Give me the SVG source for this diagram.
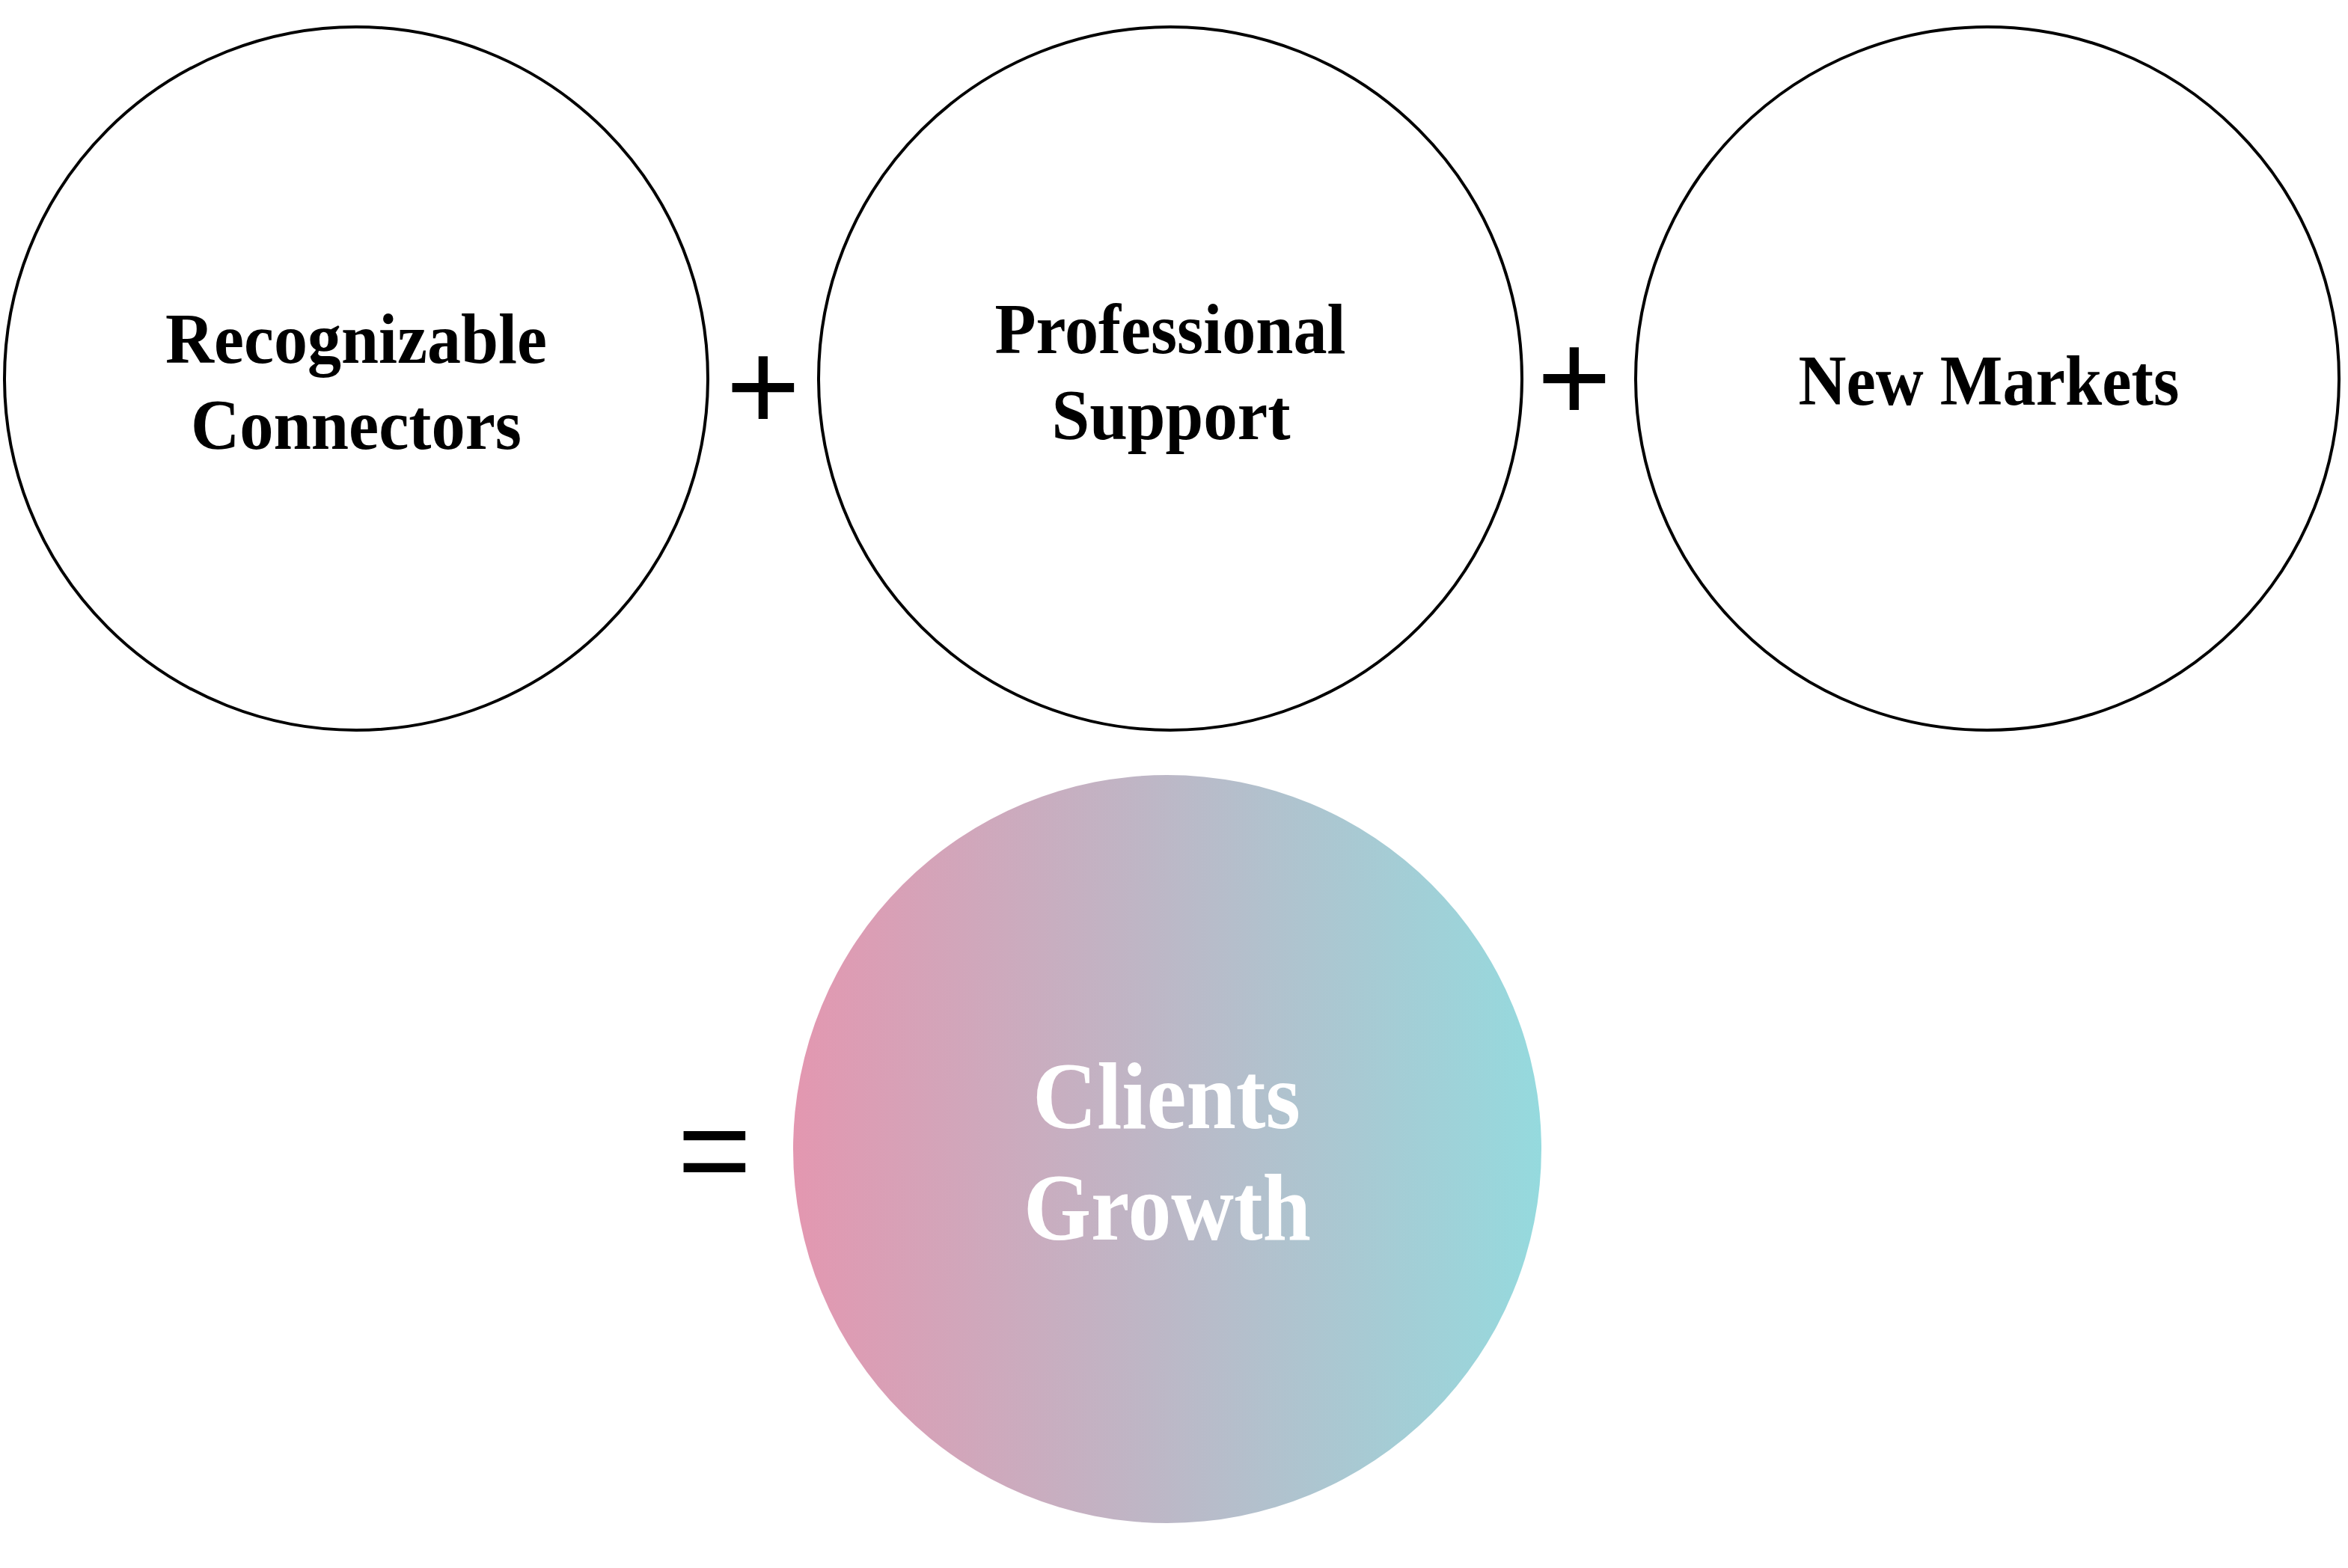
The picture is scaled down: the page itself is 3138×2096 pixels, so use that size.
<svg xmlns="http://www.w3.org/2000/svg" width="3138" height="2096" viewBox="0 0 3138 2096">
  <defs>
    <linearGradient id="grad" x1="0" y1="0" x2="1" y2="0">
      <stop offset="0" stop-color="#E397B0"/>
      <stop offset="0.5" stop-color="#BCB8C7"/>
      <stop offset="1" stop-color="#95DADE"/>
    </linearGradient>
  </defs>
  <style>
    .node { fill: #FFFFFF; stroke: #000000; stroke-width: 4; }
    .lbl { font-family: "Liberation Serif", "Times New Roman", serif; font-weight: bold; font-size: 95px; fill: #000000; text-anchor: middle; }
    .big { font-family: "Liberation Serif", "Times New Roman", serif; font-weight: bold; font-size: 128px; fill: #FFFFFF; text-anchor: middle; }
    .op { font-family: "Liberation Sans", Arial, sans-serif; font-size: 170px; fill: #000000; text-anchor: middle; }
  </style>
  <rect x="0" y="0" width="3138" height="2096" fill="#FFFFFF"/>
  <g id="node-recognizable-connectors">
    <circle class="node" cx="476" cy="506" r="470"/>
    <text class="lbl" x="476" y="485" textLength="510" lengthAdjust="spacingAndGlyphs">Recognizable</text>
    <text class="lbl" x="476" y="600" textLength="442" lengthAdjust="spacingAndGlyphs">Connectors</text>
  </g>
  <g id="node-professional-support">
    <circle class="node" cx="1564" cy="506" r="470"/>
    <text class="lbl" x="1564" y="472" textLength="469" lengthAdjust="spacingAndGlyphs">Professional</text>
    <text class="lbl" x="1565" y="587" textLength="319" lengthAdjust="spacingAndGlyphs">Support</text>
  </g>
  <g id="node-new-markets">
    <circle class="node" cx="2656" cy="506" r="470"/>
    <text class="lbl" x="2658" y="541" textLength="509" lengthAdjust="spacingAndGlyphs">New Markets</text>
  </g>
  <g id="node-clients-growth">
    <circle cx="1560" cy="1536" r="500" fill="url(#grad)"/>
    <text class="big" x="1559" y="1508" textLength="358" lengthAdjust="spacingAndGlyphs">Clients</text>
    <text class="big" x="1560" y="1657" textLength="384" lengthAdjust="spacingAndGlyphs">Growth</text>
  </g>
  <g id="connectors">
    <text id="op-plus-1" class="op" x="1020" y="575">+</text>
    <text id="op-plus-2" class="op" x="2104" y="563">+</text>
    <text id="op-equals" class="op" x="955" y="1596">=</text>
  </g>
</svg>
